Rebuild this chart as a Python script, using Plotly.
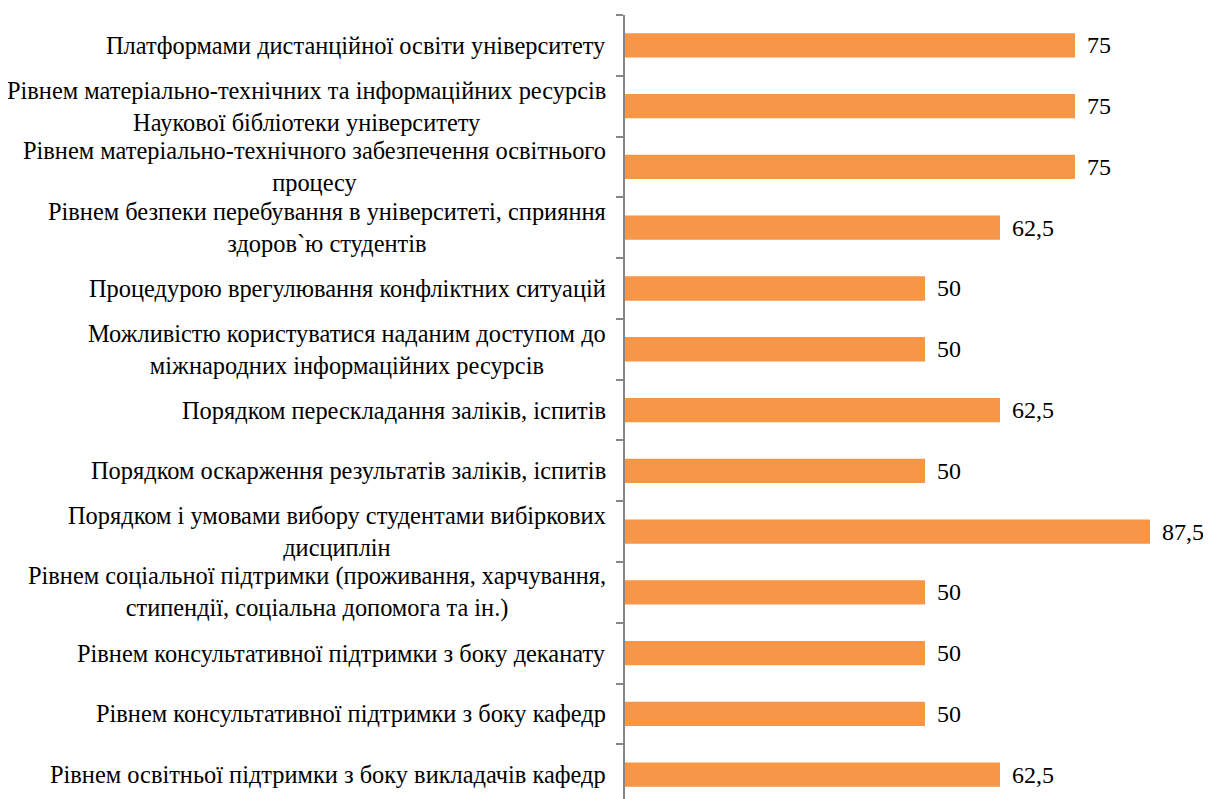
import plotly.graph_objects as go

categories = [
    "Платформами дистанційної освіти університету",
    "Рівнем матеріально-технічних та інформаційних ресурсів<br>Наукової бібліотеки університету",
    "Рівнем матеріально-технічного забезпечення освітнього<br>процесу",
    "Рівнем безпеки перебування в університеті, сприяння<br>здоров`ю студентів",
    "Процедурою врегулювання конфліктних ситуацій",
    "Можливістю користуватися наданим доступом до<br>міжнародних інформаційних ресурсів",
    "Порядком перескладання заліків, іспитів",
    "Порядком оскарження результатів заліків, іспитів",
    "Порядком і умовами вибору студентами вибіркових<br>дисциплін",
    "Рівнем соціальної підтримки (проживання, харчування,<br>стипендії, соціальна допомога та ін.)",
    "Рівнем консультативної підтримки з боку деканату",
    "Рівнем консультативної підтримки з боку кафедр",
    "Рівнем освітньої підтримки з боку викладачів кафедр",
]
values = [75, 75, 75, 62.5, 50, 50, 62.5, 50, 87.5, 50, 50, 50, 62.5]

FONT = "Liberation Serif, Times New Roman, serif"
BAR_COLOR = "#F79646"
AXIS_COLOR = "#868686"


def fmt(v):
    s = ("%g" % v)
    return s.replace(".", ",")


fig = go.Figure(
    go.Bar(
        x=values,
        y=categories,
        orientation="h",
        marker=dict(color=BAR_COLOR, line=dict(width=0)),
        width=0.4,
        hoverinfo="skip",
    )
)

annotations = []
for cat, v in zip(categories, values):
    annotations.append(dict(
        x=0, xref="paper", y=cat, yref="y",
        text=cat, showarrow=False, xanchor="right", yanchor="middle",
        align="center", xshift=-17,
        font=dict(family=FONT, size=24.4, color="#000000"),
    ))
    annotations.append(dict(
        x=v, xref="x", y=cat, yref="y",
        text=fmt(v), showarrow=False, xanchor="left", yanchor="middle",
        xshift=10,
        font=dict(family=FONT, size=24, color="#000000"),
    ))

fig.update_layout(
    width=1203,
    height=791,
    margin=dict(l=617, r=0, t=7, b=0, pad=0),
    paper_bgcolor="white",
    plot_bgcolor="white",
    showlegend=False,
    font=dict(family=FONT, size=24, color="#000000"),
    annotations=annotations,
    xaxis=dict(range=[0, 586 / 6], visible=False, fixedrange=True),
    yaxis=dict(
        type="category",
        categoryorder="array",
        categoryarray=categories,
        range=[12.4, -0.5],
        tickson="boundaries",
        ticks="outside",
        ticklen=7,
        tickwidth=1.5,
        tickcolor=AXIS_COLOR,
        showline=True,
        linecolor=AXIS_COLOR,
        linewidth=1.5,
        showgrid=False,
        zeroline=False,
        showticklabels=False,
        fixedrange=True,
    ),
)

fig.write_html("out.html")
